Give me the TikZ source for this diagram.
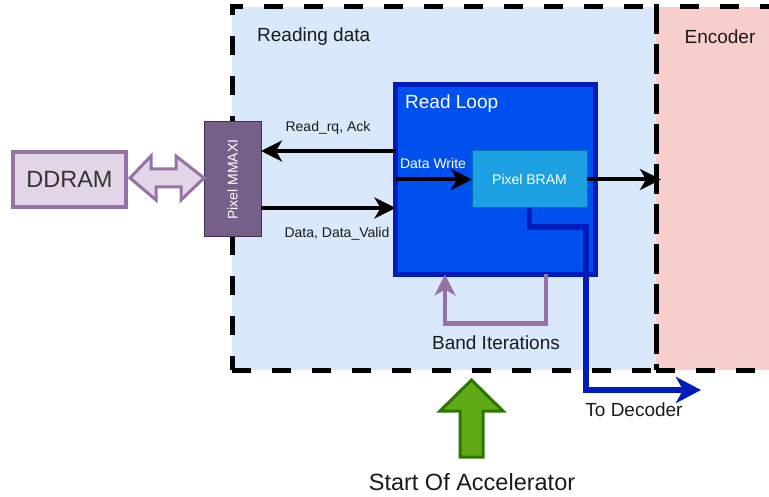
\documentclass[tikz,border=0pt]{standalone}
\usepackage{fontspec}
\setmainfont{Liberation Sans}
\usetikzlibrary{arrows.meta}
\definecolor{rdfill}{HTML}{DAE8FC}
\definecolor{encfill}{HTML}{F8CECC}
\definecolor{purfill}{HTML}{E1D5E7}
\definecolor{purline}{HTML}{9673A6}
\definecolor{mmfill}{HTML}{76608A}
\definecolor{mmline}{HTML}{432D57}
\definecolor{loopfill}{HTML}{0050EF}
\definecolor{loopline}{HTML}{001DBC}
\definecolor{bramfill}{HTML}{1BA1E2}
\definecolor{bramline}{HTML}{006EAF}
\definecolor{grnfill}{HTML}{60A917}
\definecolor{grnline}{HTML}{2D7600}
\definecolor{txt}{HTML}{1A1A1A}
\definecolor{ddtxt}{HTML}{333333}
\begin{document}
\begin{tikzpicture}[x=1pt,y=-1pt,
  box/.style={rectangle, inner sep=0pt, outer sep=0pt},
  container/.style={box, draw=black, line width=5pt, dash pattern=on 19pt off 21pt},
  ttl/.style={font=\fontsize{19}{22}\selectfont, text=txt, inner sep=0pt},
  lbl/.style={font=\fontsize{14}{16}\selectfont, text=txt, inner sep=0pt},
  wlbl/.style={font=\fontsize{14}{16}\selectfont, text=white, inner sep=0pt},
  blk/.style={draw=black, line width=4pt, -{Stealth[length=21pt,width=21pt,inset=6pt]}},
  blueln/.style={draw=loopline, line width=5.5pt, -{Stealth[length=25pt,width=26pt,inset=7pt]}},
  purln/.style={draw=purline, line width=4.5pt, -{Stealth[length=21pt,width=21pt,inset=6pt]}},
  blockarrow/.style={line width=3pt, line join=miter}
]
\useasboundingbox (0,0) rectangle (769,497);
\clip (0,0) rectangle (769,497);

% containers
\node[box, fill=rdfill, minimum width=424, minimum height=363] (reading) at (444,188.5) {};
\node[box, fill=encfill, minimum width=200, minimum height=363] (encoder) at (756,188.5) {};
\node[container, minimum width=424, minimum height=363] (readingborder) at (444,188.5) {};
\node[container, minimum width=200, minimum height=363] (encoderborder) at (756,188.5) {};
\node[ttl, anchor=west] (readingtitle) at (257,37) {Reading data};
\node[ttl] (encodertitle) at (720,37) {Encoder};

% DDRAM and MMAXI
\node[box, draw=purline, fill=purfill, line width=4pt, minimum width=113, minimum height=55,
      font=\fontsize{23.5}{28}\selectfont, text=ddtxt] (ddram) at (69.5,179.5) {DDRAM};
\node[box, draw=mmline, fill=mmfill, line width=1pt, minimum width=57, minimum height=115,
      font=\fontsize{14}{16}\selectfont, text=white] (mmaxi) at (232.5,179.5) {\rotatebox{90}{Pixel MMAXI}};

% double block arrow between DDRAM and MMAXI
\draw[blockarrow, draw=purline, fill=purfill]
  ([xshift=4pt]ddram.east |- 0,178) -- ++(21,-22) -- ++(0,13) -- ++(25,0) -- ++(0,-13)
  -- (mmaxi.west |- 0,178) -- ++(-23,22) -- ++(0,-13) -- ++(-25,0) -- ++(0,13) -- cycle;

% Read loop and BRAM
\node[box, draw=loopline, fill=loopfill, line width=5pt, minimum width=200, minimum height=190] (readloop) at (495.5,179.5) {};
\node[ttl, text=white, anchor=west] (looptitle) at (405,104) {Read Loop};
\node[box, draw=bramline, fill=bramfill, line width=1pt, minimum width=115, minimum height=57,
      font=\fontsize{14}{16}\selectfont, text=white] (bram) at (529.5,179.5) {Pixel BRAM};

% black connectors
\draw[blk] ([yshift=28.5pt]readloop.west) -- ([yshift=28.5pt]mmaxi.east);
\node[lbl] (rqlabel) at (328,128) {Read\_rq, Ack};
\draw[blk] ([yshift=-28.5pt]mmaxi.east) -- ([yshift=-28.5pt]readloop.west);
\node[lbl] (datalabel) at (337,234) {Data, Data\_Valid};
\draw[blk] (readloop.west) -- (bram.west);
\node[wlbl] (writelabel) at (433,163) {Data Write};
\coordinate (encin) at (661,179.5);
\draw[blk] (bram.east) -- (encin);

% band iterations loop
\draw[purln] ([xshift=50.5pt]readloop.south) -- ++(0,49) -| ([xshift=-50.5pt]readloop.south);
\node[ttl] (bandlabel) at (496,343) {Band Iterations};

% to decoder
\coordinate (decoder) at (701,390);
\draw[blueln] (bram.south) |- (586,227) |- (decoder);
\node[ttl] (declabel) at (634,410) {To Decoder};

% start arrow
\draw[blockarrow, draw=grnline, fill=grnfill]
  (471.5,380) -- (503,411) -- (483,411) -- (483,457) -- (460,457) -- (460,411) -- (440,411) -- cycle;
\node[font=\fontsize{23.5}{28}\selectfont, text=txt, inner sep=0pt] (startlabel) at (472,482) {Start Of Accelerator};
\end{tikzpicture}
\end{document}
